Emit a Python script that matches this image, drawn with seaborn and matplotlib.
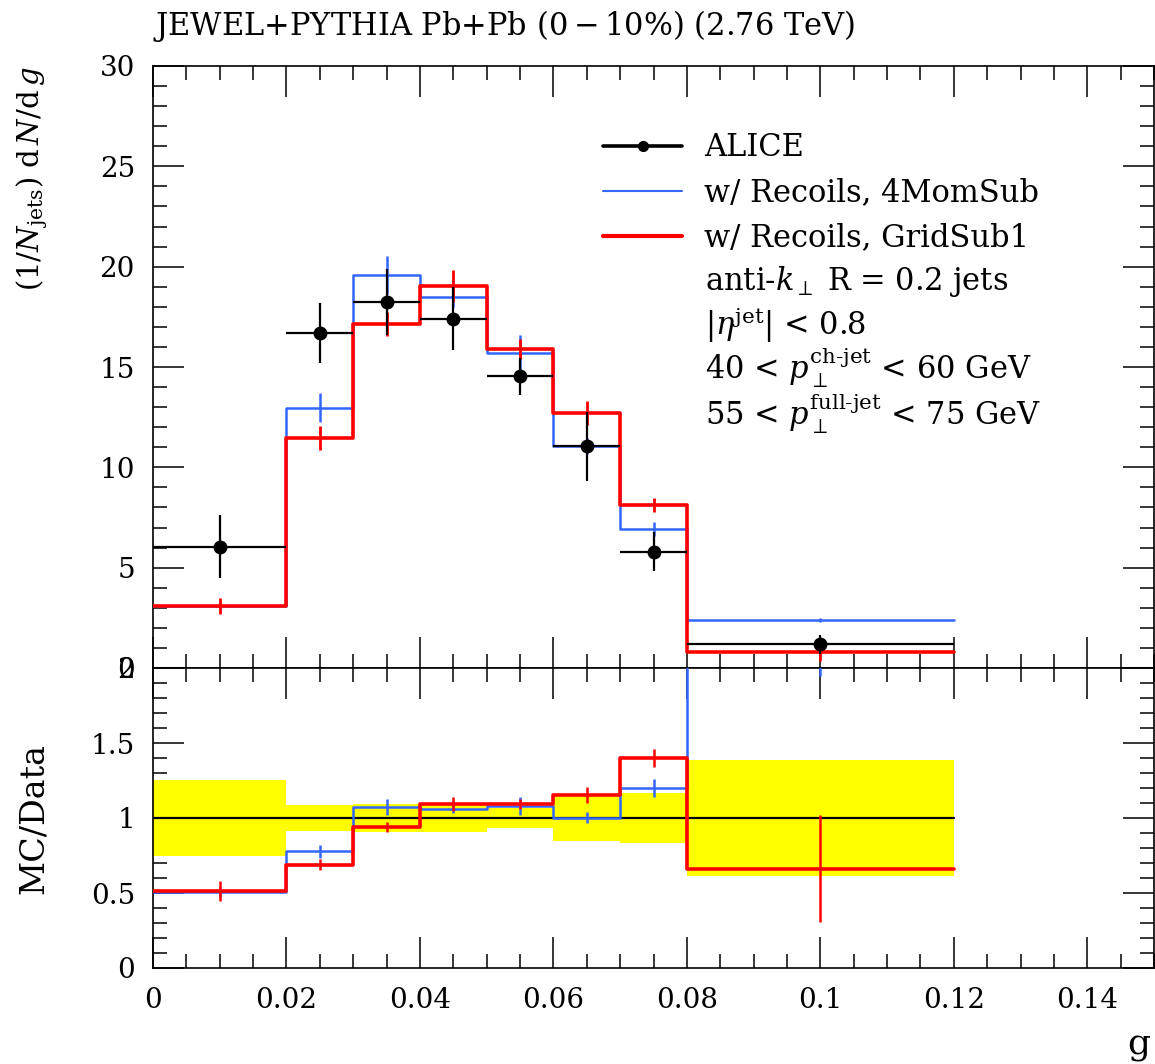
import numpy as np
import pandas as pd
import matplotlib
matplotlib.use("Agg")
import matplotlib.pyplot as plt
from matplotlib.lines import Line2D
from matplotlib.ticker import MultipleLocator, FormatStrFormatter
import seaborn as sns

# ---------------- data ----------------
bin_edges = [0.0, 0.02, 0.03, 0.04, 0.05, 0.06, 0.07, 0.08, 0.12]

alice_vals = [6.05, 16.7, 18.23, 17.4, 14.53, 11.05, 5.8, 1.18]
alice_errs = [1.55, 1.5, 1.65, 1.57, 0.94, 1.71, 0.98, 0.46]

mom_vals = [3.07, 12.98, 19.57, 18.48, 15.68, 11.07, 6.95, 2.4]
mom_errs = [0.2, 0.7, 0.95, 0.5, 0.9, 0.4, 0.35, 0.1]

grid_vals = [3.1, 11.48, 17.15, 19.03, 15.9, 12.73, 8.13, 0.78]
grid_errs = [0.4, 0.6, 0.6, 0.8, 0.5, 0.6, 0.35, 0.42]

labels = ["ALICE", "w/ Recoils, 4MomSub", "w/ Recoils, GridSub1"]
info_lines = [r"anti-$k_\perp$ R = 0.2 jets",
              r"$|\eta^{\mathrm{jet}}|$ < 0.8",
              r"40 < $p_\perp^{\mathrm{ch\text{-}jet}}$ < 60 GeV",
              r"55 < $p_\perp^{\mathrm{full\text{-}jet}}$ < 75 GeV"]
title = r"JEWEL+PYTHIA Pb+Pb $(0-10\%)$ (2.76 TeV)"

# ---------------- derived ----------------
edges = np.array(bin_edges)
centers = 0.5 * (edges[:-1] + edges[1:])
widths = np.diff(edges)
a_v = np.array(alice_vals); a_e = np.array(alice_errs)
m_v = np.array(mom_vals); m_e = np.array(mom_errs)
g_v = np.array(grid_vals); g_e = np.array(grid_errs)

BLUE = "#3366ff"
RED = "#ff0000"


def step(ax, vals, color, lw, z):
    df = pd.DataFrame({"g": centers, "w": vals})
    sns.histplot(data=df, x="g", weights="w", bins=list(bin_edges), element="step",
                 fill=False, color=color, linewidth=lw, ax=ax, zorder=z)


sns.set_theme(style="ticks")
plt.rcParams["font.family"] = ["DejaVu Serif"]
plt.rcParams["mathtext.fontset"] = "dejavuserif"
plt.rcParams["axes.linewidth"] = 1.2
for k in ("text.color", "axes.labelcolor", "xtick.color", "ytick.color",
          "xtick.labelcolor", "ytick.labelcolor", "axes.edgecolor"):
    plt.rcParams[k] = "black"

fig = plt.figure(figsize=(11.55, 10.64), dpi=100)
W, H = 1155, 1064
ax1 = fig.add_axes([153 / W, 1 - 668 / H, 1001 / W, 602 / H])
ax2 = fig.add_axes([153 / W, 1 - 968 / H, 1001 / W, 300 / H], sharex=ax1)

# ---- main panel ----
step(ax1, m_v, BLUE, 1.8, 3)
step(ax1, g_v, RED, 2.6, 4)
ax1.errorbar(centers, m_v, yerr=m_e, fmt="none", ecolor=BLUE, elinewidth=1.8, zorder=3)
ax1.errorbar(centers, g_v, yerr=g_e, fmt="none", ecolor=RED, elinewidth=2.0, zorder=4)
ax1.errorbar(centers, a_v, yerr=a_e, xerr=widths / 2, fmt="o", color="black",
             ms=9, elinewidth=1.6, zorder=6)

ax1.set_xlim(0, 0.15)
ax1.set_ylim(0, 30)
ax1.yaxis.set_major_locator(MultipleLocator(5))
ax1.yaxis.set_minor_locator(MultipleLocator(1))
ax1.set_xlabel("")
ax1.set_ylabel(r"$(1/N_{\mathrm{jets}})\ \mathrm{d}\,N/\mathrm{d}\,g$", fontsize=21, loc="top")
ax1.text(0.0, (668 - 35) / 602, title, transform=ax1.transAxes, fontsize=22,
         ha="left", va="baseline")

handles = [Line2D([], [], color="black", lw=2.6, marker="o", ms=7),
           Line2D([], [], color=BLUE, lw=1.5),
           Line2D([], [], color=RED, lw=3.0)]
ax1.legend(handles, labels, loc="upper left",
           bbox_to_anchor=(0.4496, 0.890), frameon=False, fontsize=22,
           handlelength=2.6, handletextpad=0.72, labelspacing=0.46,
           borderpad=0, borderaxespad=0)
for i, line in enumerate(info_lines):
    ax1.text((705 - 153) / 1001, (668 - (290 + 45 * i)) / 602, line,
             transform=ax1.transAxes, fontsize=22, ha="left", va="baseline")

# ---- ratio panel ----
rel = a_e / a_v
ax2.bar(centers, 2 * rel, bottom=1 - rel, width=widths, color="yellow",
        linewidth=0, zorder=1)
step(ax2, np.ones_like(a_v), "black", 1.6, 2)
step(ax2, m_v / a_v, BLUE, 1.8, 3)
step(ax2, g_v / a_v, RED, 2.6, 4)
ax2.errorbar(centers, m_v / a_v, yerr=m_e / a_v, fmt="none", ecolor=BLUE,
             elinewidth=1.8, zorder=3)
ax2.errorbar(centers, g_v / a_v, yerr=g_e / a_v, fmt="none", ecolor=RED,
             elinewidth=1.8, zorder=4)
ax2.set_ylim(0, 2)
ax2.yaxis.set_major_locator(MultipleLocator(0.5))
ax2.yaxis.set_minor_locator(MultipleLocator(0.1))
ax2.yaxis.set_major_formatter(FormatStrFormatter("%g"))
ax2.set_ylabel("MC/Data", fontsize=24)
ax2.set_xlabel("g", fontsize=26, loc="right")

for ax in (ax1, ax2):
    ax.xaxis.set_major_locator(MultipleLocator(0.02))
    ax.xaxis.set_minor_locator(MultipleLocator(0.005))
    ax.xaxis.set_major_formatter(FormatStrFormatter("%g"))
    ax.tick_params(which="both", direction="in", top=True, right=True,
                   labelsize=20, width=1.1, color="black", labelcolor="black")
    ax.tick_params(which="major", length=22)
    ax.tick_params(which="minor", length=10)
    ax.tick_params(axis="x", which="major", pad=14)
    ax.tick_params(axis="y", which="major", pad=13)
    for s in ax.spines.values():
        s.set_linewidth(1.2)
        s.set_color("black")
    ax.grid(False)

ax1.tick_params(labelbottom=False)
ax1.set_xlim(0, 0.15)
ax1.yaxis.set_label_coords(-0.103, 1.0)
ax2.yaxis.set_label_coords(-0.103, 0.5)
ax2.xaxis.set_label_coords(0.996, -0.2)

fig.savefig("out.png", dpi=100)
